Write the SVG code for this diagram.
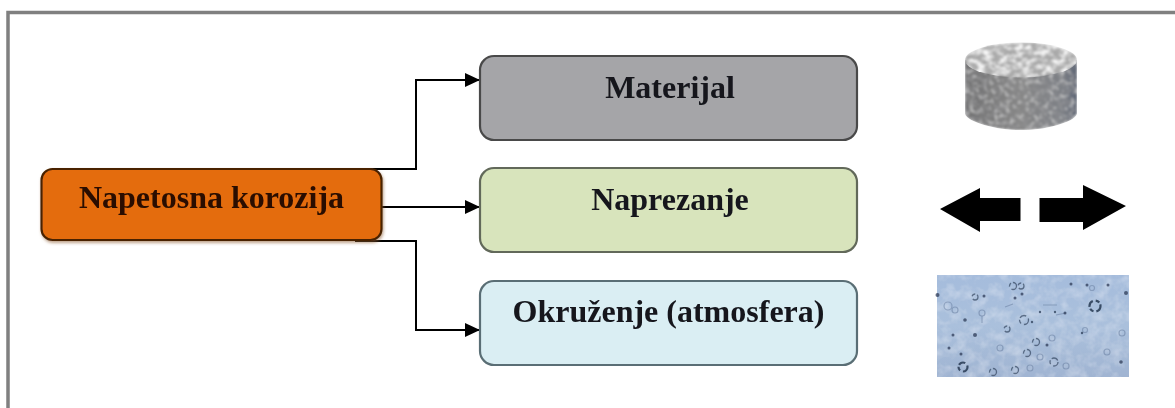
<svg xmlns="http://www.w3.org/2000/svg" width="1175" height="408" viewBox="0 0 1175 408">
<style>
.lbl{font-family:"Liberation Serif","Times New Roman",serif;font-weight:bold;font-size:32px;text-anchor:middle;fill:#14161c}
.box{stroke-width:2.2}
.conn{fill:none;stroke:#000;stroke-width:2}
.drop{fill:none;stroke:#34465f;stroke-width:1.3;stroke-dasharray:7 3 4 2;opacity:.7}
.dot{fill:#2b3b55;opacity:.75}
.faint{fill:none;stroke:#6f86a6;stroke-width:1.2;opacity:.6}
</style>
<defs>
<marker id="ah" markerUnits="userSpaceOnUse" markerWidth="15" markerHeight="14" refX="15" refY="7" orient="auto"><path d="M0 0L15 7L0 14Z" fill="#000"/></marker>
<filter id="shadow" x="-5%" y="-10%" width="110%" height="125%"><feDropShadow dx="1" dy="2" stdDeviation="1.5" flood-color="#8a5a30" flood-opacity=".55"/></filter>
<filter id="grain" x="0" y="0" width="100%" height="100%"><feTurbulence type="fractalNoise" baseFrequency=".17" numOctaves="3" seed="7" result="n"/><feColorMatrix in="n" type="matrix" values="0 0 0 0 .3  0 0 0 0 .3  0 0 0 0 .31  2 0 0 0 -.85" result="c"/><feTurbulence type="fractalNoise" baseFrequency=".2" numOctaves="2" seed="33"/><feColorMatrix type="matrix" values="0 0 0 0 .78  0 0 0 0 .78  0 0 0 0 .78  1.6 0 0 0 -.8" result="e"/><feMerge result="m"><feMergeNode in="SourceGraphic"/><feMergeNode in="c"/><feMergeNode in="e"/></feMerge><feGaussianBlur in="m" stdDeviation="1" result="b"/><feComposite in="b" in2="SourceAlpha" operator="in"/></filter>
<filter id="grainL" x="0" y="0" width="100%" height="100%"><feTurbulence type="fractalNoise" baseFrequency=".13 .2" numOctaves="3" seed="21" result="n"/><feColorMatrix in="n" type="matrix" values="0 0 0 0 .95  0 0 0 0 .95  0 0 0 0 .95  3 0 0 0 -1.2" result="c"/><feTurbulence type="fractalNoise" baseFrequency=".2" numOctaves="1" seed="5"/><feColorMatrix type="matrix" values="0 0 0 0 .5  0 0 0 0 .5  0 0 0 0 .5  1.6 0 0 0 -.8" result="e"/><feMerge result="m"><feMergeNode in="SourceGraphic"/><feMergeNode in="c"/><feMergeNode in="e"/></feMerge><feGaussianBlur in="m" stdDeviation=".9" result="b"/><feComposite in="b" in2="SourceAlpha" operator="in"/></filter>
<filter id="soft"><feGaussianBlur stdDeviation=".6"/></filter>
<filter id="t"><feGaussianBlur stdDeviation=".35"/></filter>
<filter id="mott" x="0" y="0" width="100%" height="100%"><feTurbulence type="fractalNoise" baseFrequency=".09" numOctaves="3" seed="11"/><feColorMatrix type="matrix" values="0 0 0 0 .85  0 0 0 0 .9  0 0 0 0 .97  .7 0 0 0 -.28"/><feComposite in2="SourceAlpha" operator="in" result="d"/><feMerge><feMergeNode in="SourceGraphic"/><feMergeNode in="d"/></feMerge></filter>
<linearGradient id="side" x1="0" x2="1" y1="0" y2="0"><stop offset="0" stop-color="#727273"/><stop offset=".5" stop-color="#868686"/><stop offset=".88" stop-color="#7c7f85"/><stop offset="1" stop-color="#5c6474"/></linearGradient>
<linearGradient id="sky" x1="0" x2="0" y1="0" y2="1"><stop offset="0" stop-color="#a5bcdc"/><stop offset=".5" stop-color="#aac0dc"/><stop offset="1" stop-color="#a0b4d2"/></linearGradient>
</defs>
<rect x="0" y="0" width="1175" height="408" fill="#fff"/>
<path d="M8 408V12.500H1175" fill="none" stroke="#808080" stroke-width="3.500"/>
<g id="connectors" filter="url(#t)">
<path class="conn" d="M355 169H416V80H480" marker-end="url(#ah)"/>
<path class="conn" d="M382 207H480" marker-end="url(#ah)"/>
<path class="conn" d="M355 241H416V330H480" marker-end="url(#ah)"/>
</g>
<g id="node-napetosna">
<rect class="box" x="41.500" y="169" width="340" height="71" rx="11" fill="#e46c0a" stroke="#4a2406" filter="url(#shadow)"/>
<text class="lbl" x="211.500" y="208" style="fill:#2b0d02" filter="url(#t)">Napetosna korozija</text>
</g>
<g id="node-materijal">
<rect class="box" x="480" y="56" width="377" height="84" rx="14" fill="#a5a5a8" stroke="#4a4a4a" filter="url(#t)"/>
<text class="lbl" x="670" y="98" filter="url(#t)">Materijal</text>
</g>
<g id="node-naprezanje">
<rect class="box" x="480" y="168" width="377" height="84" rx="14" fill="#d8e4bc" stroke="#62695a" filter="url(#t)"/>
<text class="lbl" x="670" y="210" filter="url(#t)">Naprezanje</text>
</g>
<g id="node-okruzenje">
<rect class="box" x="480" y="281" width="377" height="84" rx="14" fill="#daeef3" stroke="#5a6e74" filter="url(#t)"/>
<text class="lbl" x="668.500" y="322" filter="url(#t)">Okruženje (atmosfera)</text>
</g>
<g id="cylinder">
<path d="M965 60V114C968 122 995 130 1021 130C1047 130 1074 122 1077 114V60Z" fill="url(#side)" filter="url(#grain)"/>
<ellipse cx="1021" cy="60" rx="56" ry="17.500" fill="#a9a9a9" filter="url(#grainL)"/>
</g>
<g id="arrows" fill="#000" filter="url(#soft)">
<path d="M940 209L980 188V198H1020.500V221H980V232Z"/>
<path d="M1039.500 198H1083V185L1126 206L1083 230V222H1039.500Z"/>
</g>
<g id="water">
<rect x="937" y="275" width="192" height="102" fill="url(#sky)" filter="url(#mott)"/>
<g filter="url(#soft)">
<circle class="drop" cx="1095" cy="306" r="5.500" style="stroke-width:2.200;opacity:.95"/>
<circle class="drop" cx="1024" cy="320" r="4.500"/><circle class="drop" cx="1036" cy="342" r="3.500"/><circle class="drop" cx="1027" cy="353" r="3.500"/><circle class="drop" cx="963" cy="367" r="4.500" style="stroke-width:2.200;opacity:.95"/><circle class="drop" cx="1013" cy="286" r="3.500"/><circle class="drop" cx="1021" cy="286" r="3"/><circle class="drop" cx="975" cy="297" r="3"/><circle class="drop" cx="1007" cy="329" r="3"/><circle class="drop" cx="993" cy="372" r="3.500"/><circle class="drop" cx="1015" cy="370" r="3.500"/><circle class="drop" cx="1054" cy="362" r="4"/>
<circle class="faint" cx="1107" cy="352" r="3"/><circle class="faint" cx="948" cy="306" r="4"/><circle class="faint" cx="955" cy="310" r="3"/><circle class="faint" cx="982" cy="313" r="3"/><circle class="faint" cx="1000" cy="348" r="3"/><circle class="faint" cx="1052" cy="338" r="3"/><circle class="faint" cx="1085" cy="330" r="2.500"/><circle class="faint" cx="1122" cy="333" r="3"/><circle class="faint" cx="1040" cy="357" r="3"/><circle class="faint" cx="1066" cy="366" r="3"/><circle class="faint" cx="1030" cy="368" r="3"/><circle class="faint" cx="1092" cy="288" r="2.500"/>
<path class="faint" d="M1043 305H1057M1005 307L1013 304M982 316V323M1056 315L1066 313"/>
<circle class="dot" cx="975" cy="335" r="2"/><circle class="dot" cx="984" cy="296" r="1.500"/><circle class="dot" cx="1015" cy="298" r="1.500"/><circle class="dot" cx="1022" cy="294" r="1.500"/><circle class="dot" cx="1087" cy="285" r="1.500"/><circle class="dot" cx="1108" cy="285" r="1.500"/><circle class="dot" cx="937.500" cy="295" r="2"/><circle class="dot" cx="965" cy="320" r="1.800"/><circle class="dot" cx="953" cy="335" r="1.500"/><circle class="dot" cx="949" cy="348" r="1.500"/><circle class="dot" cx="961" cy="354" r="1.500"/><circle class="dot" cx="1065" cy="313" r="1.500"/><circle class="dot" cx="1055" cy="312" r="1.200"/><circle class="dot" cx="1071" cy="284" r="1.500"/><circle class="dot" cx="1121" cy="362" r="1.800"/><circle class="dot" cx="1126" cy="293" r="2"/><circle class="dot" cx="1040" cy="312" r="1.200"/><circle class="dot" cx="1047" cy="345" r="1.500"/><circle class="dot" cx="1082" cy="333" r="1.200"/><circle class="dot" cx="1032" cy="322" r="1.200"/>
</g>
</g>
</svg>
